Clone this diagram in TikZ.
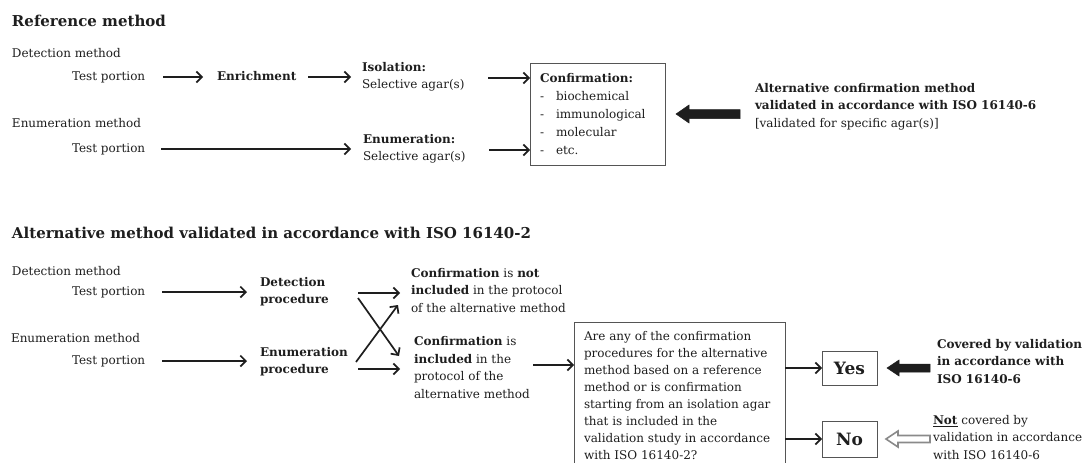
\documentclass[tikz,border=0pt]{standalone}
\usepackage{fontspec}
\setmainfont{DejaVu Serif}
\usetikzlibrary{arrows.meta,calc}
\definecolor{ink}{HTML}{1E1E1E}
\definecolor{boxc}{HTML}{555555}
\definecolor{hollow}{HTML}{8A8A8A}
\begin{document}
\begin{tikzpicture}[x=1pt,y=-1pt,
  every node/.style={inner sep=0pt,outer sep=0pt,text=ink},
  txt/.style={font=\fontsize{12}{17.5}\selectfont,anchor=west,align=left,
    execute at begin node=\strut,execute at end node=\strut},
  ttl/.style={font=\fontsize{15}{18}\selectfont\bfseries,anchor=west},
  arr/.style={draw=ink,line width=1.7pt,-{Straight Barb[length=5.5pt,width=11pt]}},
  boxline/.style={draw=boxc,line width=0.9pt},
  ansbox/.style={draw=boxc,line width=0.9pt,minimum width=55pt,font=\fontsize{17}{20}\selectfont\bfseries},
  blk/.style={fill=ink,draw=ink,line width=0.5pt},
  hol/.style={fill=white,draw=hollow,line width=1.6pt}]
\useasboundingbox (0,0) rectangle (1092,463);

% ---------- Reference method ----------
\node[ttl] (t1) at (12,21) {Reference method};
\node[txt] (det1) at (12,54) {Detection method};
\node[txt] (tp1) at (72,77) {Test portion};
\node[txt] (enr) at (217,77) {\textbf{Enrichment}};
\node[txt] (iso) at (362,78) {\textbf{Isolation:}\\Selective agar(s)};
\node[txt] (enm1) at (12,124) {Enumeration method};
\node[txt] (tp2) at (72,149) {Test portion};
\node[txt] (enu) at (363,150) {\textbf{Enumeration:}\\Selective agar(s)};
\node[boxline,anchor=north west,font=\fontsize{12}{18}\selectfont,align=left,
      text width=115pt,inner xsep=10pt,minimum height=102pt] (conf) at (530,63)
  {\textbf{Confirmation:}\\
   \makebox[16pt][l]{-}biochemical\\
   \makebox[16pt][l]{-}immunological\\
   \makebox[16pt][l]{-}molecular\\
   \makebox[16pt][l]{-}etc.};
\node[txt] (alt) at (755,108) {\textbf{Alternative confirmation method}\\
  \textbf{validated in accordance with ISO 16140-6}\\{[}validated for specific agar(s){]}};

\draw[arr] (tp1.east -| 163,0) -- ([xshift=-14pt]tp1.east -| enr.west);
\draw[arr] (enr.east -| 308,0) -- ([xshift=-11pt]enr.east -| iso.west);
\draw[arr] (iso.west -| 488,0) -- (iso.west -| conf.west);
\draw[arr] (tp2.east -| 161,0) -- ([xshift=-12pt]tp2.east -| enu.west);
\draw[arr] (enu.west -| 489,0) -- (enu.west -| conf.west);
\draw[blk] ($(conf.east)+(11,0)$) -- ++(13,-9) -- ++(0,4.5) -- ++(51,0) -- ++(0,9)
  -- ++(-51,0) -- ++(0,4.5) -- cycle;

% ---------- Alternative method ----------
\node[ttl] (t2) at (12,233) {Alternative method validated in accordance with ISO 16140-2};
\node[txt] (det2) at (12,272) {Detection method};
\node[txt] (tp3) at (72,292) {Test portion};
\node[txt] (detp) at (260,293) {\textbf{Detection}\\\textbf{procedure}};
\node[txt] (enm2) at (11,339) {Enumeration method};
\node[txt] (tp4) at (72,361) {Test portion};
\node[txt] (enup) at (260,363) {\textbf{Enumeration}\\\textbf{procedure}};
\node[txt] (cnot) at (411,293) {\textbf{Confirmation} is \textbf{not}\\
  \textbf{included} in the protocol\\of the alternative method};
\node[txt] (cinc) at (414,370) {\textbf{Confirmation} is\\\textbf{included} in the\\
  protocol of the\\alternative method};

\coordinate (qtl) at (574,322);
\coordinate (qtr) at (785,322);
\coordinate (qbl) at (574,463);
\coordinate (qbr) at (785,463);
\draw[boxline] (qbl) -- (qtl) -- (qtr) -- (qbr);
\node[txt,font=\fontsize{12}{17}\selectfont] (q) at (584,397.5) {Are any of the confirmation\\procedures for the alternative\\
  method based on a reference\\method or is confirmation\\starting from an isolation agar\\
  that is included in the\\validation study in accordance\\with ISO 16140-2?};

\node[ansbox,minimum height=34pt] (yes) at (849.5,368) {Yes};
\node[ansbox,minimum height=36pt] (no) at (849.5,439) {No};
\node[txt] (cov) at (937,364) {\textbf{Covered by validation}\\\textbf{in accordance with}\\
  \textbf{ISO 16140-6}};
\node[txt] (ncov) at (933,440) {\textbf{\underline{Not}} covered by\\validation in accordance\\
  with ISO 16140-6};

\draw[arr] (tp3.east -| 162,0) -- ([xshift=-13pt]tp3.east -| detp.west);
\draw[arr] (tp4.east -| 162,0) -- ([xshift=-13pt]tp4.east -| enup.west);
\draw[arr] (cnot.west -| 358,0) -- ([xshift=-11pt]cnot.west);
\draw[arr] ($(detp.east -| 358,0)+(0,5)$) -- ($(cinc.west -| 399,0)+(0,-14)$);
\draw[arr] ($(enup.east -| 356,0)+(0,-1)$) -- ($(cnot.west -| 398,0)+(0,12)$);
\draw[arr] ($(cinc.west -| 358,0)+(0,-1)$) -- ($(cinc.west)+(-14,-1)$);
\draw[arr] ($(cinc.east -| 533,0)+(0,-5)$) -- ($(qtl |- cinc.east)+(0,-5)$);
\draw[arr] (qtr |- yes.west) -- (yes.west);
\draw[arr] (qtr |- no.west) -- (no.west);
\draw[blk] ($(yes.east)+(10,0)$) -- ++(12,-8) -- ++(0,4) -- ++(31,0) -- ++(0,8)
  -- ++(-31,0) -- ++(0,4) -- cycle;
\draw[hol] ($(no.east)+(9,0)$) -- ++(12,-8) -- ++(0,4.5) -- ++(32,0) -- ++(0,7)
  -- ++(-32,0) -- ++(0,4.5) -- cycle;
\end{tikzpicture}
\end{document}
